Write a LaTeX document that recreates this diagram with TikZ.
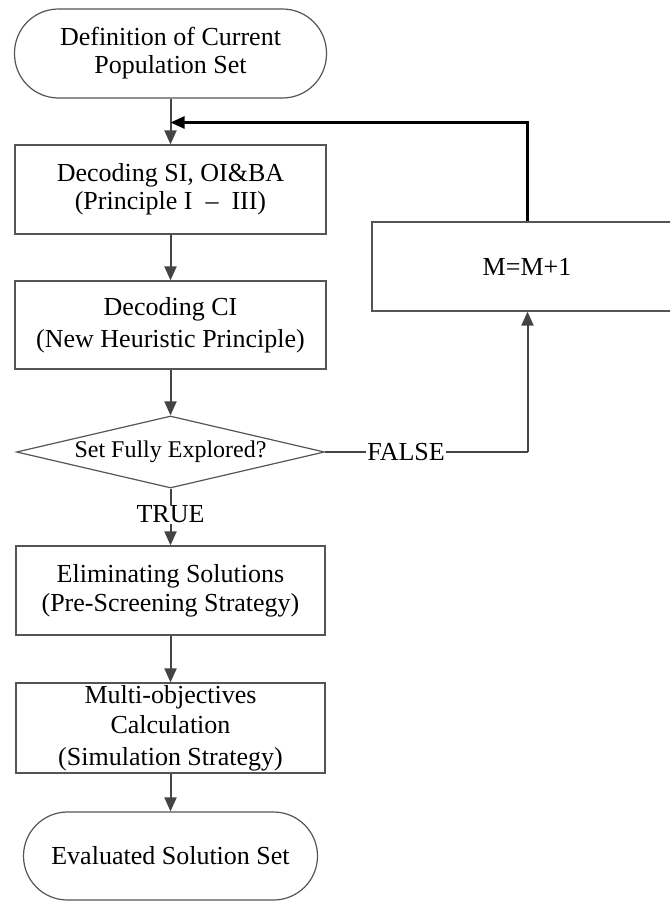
\documentclass[tikz,border=0pt]{standalone}
\usepackage{fontspec}
\setmainfont{Liberation Serif}
\usetikzlibrary{arrows.meta,shapes.geometric}
\definecolor{lncol}{HTML}{444444}
\definecolor{bdcol}{HTML}{555555}
\tikzset{
  every node/.style={font=\fontsize{26}{29}\selectfont, text=black},
  procbox/.style={draw=bdcol, line width=1.2pt, rectangle, align=center, inner sep=0pt},
  termbox/.style={draw=bdcol, line width=1.2pt, rectangle, rounded corners=44pt, align=center, inner sep=0pt},
  decbox/.style={draw=bdcol, line width=1.2pt, diamond, inner sep=0pt, font=\fontsize{24}{27}\selectfont},
  conn/.style={draw=lncol, line width=2pt, -{Triangle[length=14pt,width=12pt]}},
  plainconn/.style={draw=lncol, line width=2pt},
  backconn/.style={draw=black, line width=2.4pt, -{Triangle[length=14pt,width=12pt]}},
  lbl/.style={fill=white, inner sep=1pt}
}
\begin{document}
\begin{tikzpicture}[x=1pt,y=-1pt]
\useasboundingbox (0,0) rectangle (670,902);
\clip (0,0) rectangle (670,902);
\fill[white] (0,0) rectangle (670,902);

\node[termbox, minimum width=312pt, minimum height=89pt] (start) at (170.5,53.5)
  {Definition of Current\\[-1pt]Population Set};
\node[procbox, minimum width=311pt, minimum height=89pt] (dec1) at (170.5,189.5)
  {Decoding SI, OI\&BA\\[-1pt](Principle I\ \ –\ \ III)};
\node[procbox, minimum width=311pt, minimum height=88pt] (dec2) at (170.5,325)
  {Decoding CI\\[3pt](New Heuristic Principle)};
\node[decbox, minimum width=308pt, minimum height=72pt, aspect=4.28] (dia) at (170.5,452)
  {Set Fully Explored?};
\node[procbox, minimum width=309pt, minimum height=89pt] (elim) at (170.5,590.5)
  {Eliminating Solutions\\(Pre-Screening Strategy)};
\node[procbox, minimum width=309pt, minimum height=90pt] (multi) at (170.5,728)
  {Multi-objectives\\[1pt]Calculation\\[3pt](Simulation Strategy)};
\node[termbox, minimum width=294pt, minimum height=88pt] (stop) at (170.5,856)
  {Evaluated Solution Set};
\node[procbox, minimum width=310pt, minimum height=89pt] (mbox) at (527,266.5)
  {M=M+1};

\coordinate (join) at (170.5,122.5);
\coordinate (loopx) at (527.5,452);

\draw[conn] (start) -- (dec1);
\draw[conn] (dec1) -- (dec2);
\draw[conn] (dec2) -- (dia);
\draw[conn] (dia) -- node[lbl, pos=0.45]{TRUE} (elim);
\draw[conn] (elim) -- (multi);
\draw[conn] (multi) -- (stop);

\draw[plainconn] (dia.east) -- node[lbl, pos=0.4]{FALSE} (loopx);
\draw[conn] (loopx) -- (loopx |- mbox.south);
\draw[backconn] (loopx |- mbox.north) |- (join);
\end{tikzpicture}
\end{document}
